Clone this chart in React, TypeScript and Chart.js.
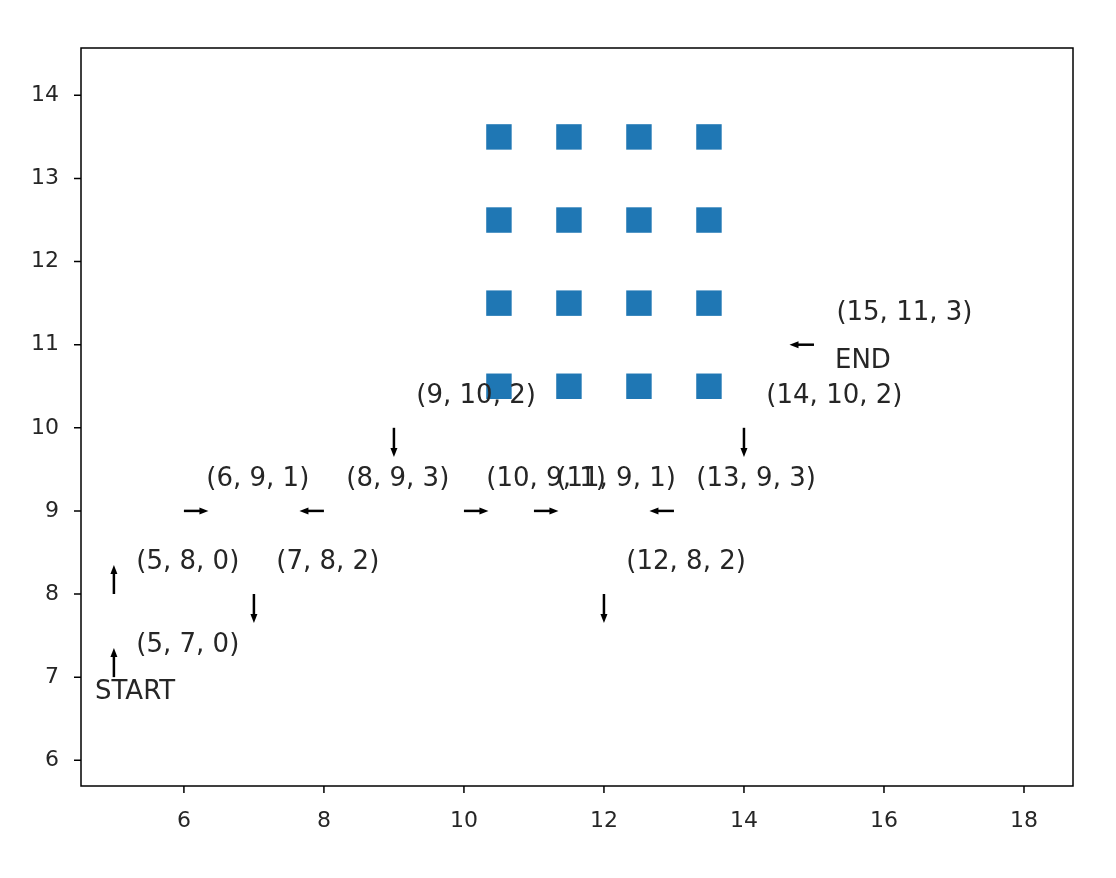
import React, { useEffect, useRef } from 'react';
import { Chart, registerables } from 'chart.js';

Chart.register(...registerables);

// states along the path: x, y, direction (0 up, 1 right, 2 down, 3 left)
const pathX = [5, 5, 6, 7, 8, 9, 10, 11, 12, 13, 14, 15];
const pathY = [7, 8, 9, 8, 9, 10, 9, 9, 8, 9, 10, 11];
const pathDir = [0, 0, 1, 2, 3, 2, 1, 1, 2, 3, 2, 3];

// blocked cells
const wallX = [10.5, 11.5, 12.5, 13.5];
const wallY = [10.5, 11.5, 12.5, 13.5];

const xTicks = [6, 8, 10, 12, 14, 16, 18];
const yTicks = [6, 7, 8, 9, 10, 11, 12, 13, 14];

const FONT = '"DejaVu Sans", sans-serif';

const arrowPlugin = {
  id: 'arrows',
  afterDatasetsDraw(chart: any) {
    const { ctx, chartArea, scales } = chart;
    const xs = scales.x, ys = scales.y;
    const px = (v: number) => xs.getPixelForValue(v);
    const py = (v: number) => ys.getPixelForValue(v);
    ctx.save();
    ctx.strokeStyle = '#000';
    ctx.fillStyle = '#000';
    ctx.lineWidth = 2.5;
    const len = 0.35;
    const dirs = [[0, 1], [1, 0], [0, -1], [-1, 0]];
    pathX.forEach((x, i) => {
      const y = pathY[i];
      const [dx, dy] = dirs[pathDir[i]];
      const x0 = px(x), y0 = py(y);
      const x1 = px(x + dx * len), y1 = py(y + dy * len);
      const ang = Math.atan2(y1 - y0, x1 - x0);
      ctx.beginPath();
      ctx.moveTo(x0, y0);
      ctx.lineTo(x1 - Math.cos(ang) * 5, y1 - Math.sin(ang) * 5);
      ctx.stroke();
      ctx.beginPath();
      ctx.moveTo(x1, y1);
      ctx.lineTo(x1 - Math.cos(ang) * 9 + Math.sin(ang) * 3.5, y1 - Math.sin(ang) * 9 - Math.cos(ang) * 3.5);
      ctx.lineTo(x1 - Math.cos(ang) * 9 - Math.sin(ang) * 3.5, y1 - Math.sin(ang) * 9 + Math.cos(ang) * 3.5);
      ctx.closePath();
      ctx.fill();
    });
    ctx.fillStyle = '#262626';
    ctx.font = `26px ${FONT}`;
    ctx.textAlign = 'left';
    ctx.textBaseline = 'middle';
    pathX.forEach((x, i) => {
      ctx.fillText(`(${x}, ${pathY[i]}, ${pathDir[i]})`, px(x + 0.32), py(pathY[i] + 0.38));
    });
    ctx.fillText('START', px(4.73), py(6.82));
    ctx.fillText('END', px(15.3), py(10.8));
    ctx.strokeStyle = '#000';
    ctx.lineWidth = 1.5;
    ctx.strokeRect(chartArea.left, chartArea.top, chartArea.right - chartArea.left, chartArea.bottom - chartArea.top);
    ctx.beginPath();
    xTicks.forEach((v) => {
      ctx.moveTo(px(v), chartArea.bottom);
      ctx.lineTo(px(v), chartArea.bottom + 7);
    });
    yTicks.forEach((v) => {
      ctx.moveTo(chartArea.left, py(v));
      ctx.lineTo(chartArea.left - 7, py(v));
    });
    ctx.stroke();
    ctx.restore();
  },
};

const App: React.FC = () => {
  const canvasRef = useRef<HTMLCanvasElement>(null);

  useEffect(() => {
    document.body.style.margin = '0';
    const ctx = canvasRef.current?.getContext('2d');
    if (!ctx) return;
    const walls: { x: number; y: number }[] = [];
    wallX.forEach((x) => wallY.forEach((y) => walls.push({ x, y })));
    const chart = new Chart(ctx, {
      type: 'scatter',
      data: {
        datasets: [
          {
            data: walls,
            backgroundColor: '#1f77b4',
            borderWidth: 0,
            pointStyle: 'rect',
            pointRadius: 18,
          },
        ],
      },
      options: {
        animation: false,
        responsive: false,
        layout: { padding: { left: 0, top: 48, right: 43, bottom: 0 } },
        plugins: { legend: { display: false }, tooltip: { enabled: false } },
        scales: {
          x: {
            type: 'linear',
            min: 4.53,
            max: 18.7,
            afterFit: (s: any) => { s.height = 92; },
            afterBuildTicks: (s: any) => { s.ticks = xTicks.map((v) => ({ value: v })); },
            grid: { display: false },
            border: { display: false },
            ticks: { color: '#262626', font: { family: FONT, size: 22 }, padding: 14, maxRotation: 0 },
          },
          y: {
            type: 'linear',
            min: 5.69,
            max: 14.57,
            afterFit: (s: any) => { s.width = 81; },
            afterBuildTicks: (s: any) => { s.ticks = yTicks.map((v) => ({ value: v })); },
            grid: { display: false },
            border: { display: false },
            ticks: { color: '#262626', font: { family: FONT, size: 22 }, padding: 14 },
          },
        },
      },
      plugins: [arrowPlugin],
    });
    return () => chart.destroy();
  }, []);

  return (
    <div style={{ width: 1116, height: 878, background: '#fff' }}>
      <canvas ref={canvasRef} width={1116} height={878} style={{ width: 1116, height: 878 }} />
    </div>
  );
};

export default App;
